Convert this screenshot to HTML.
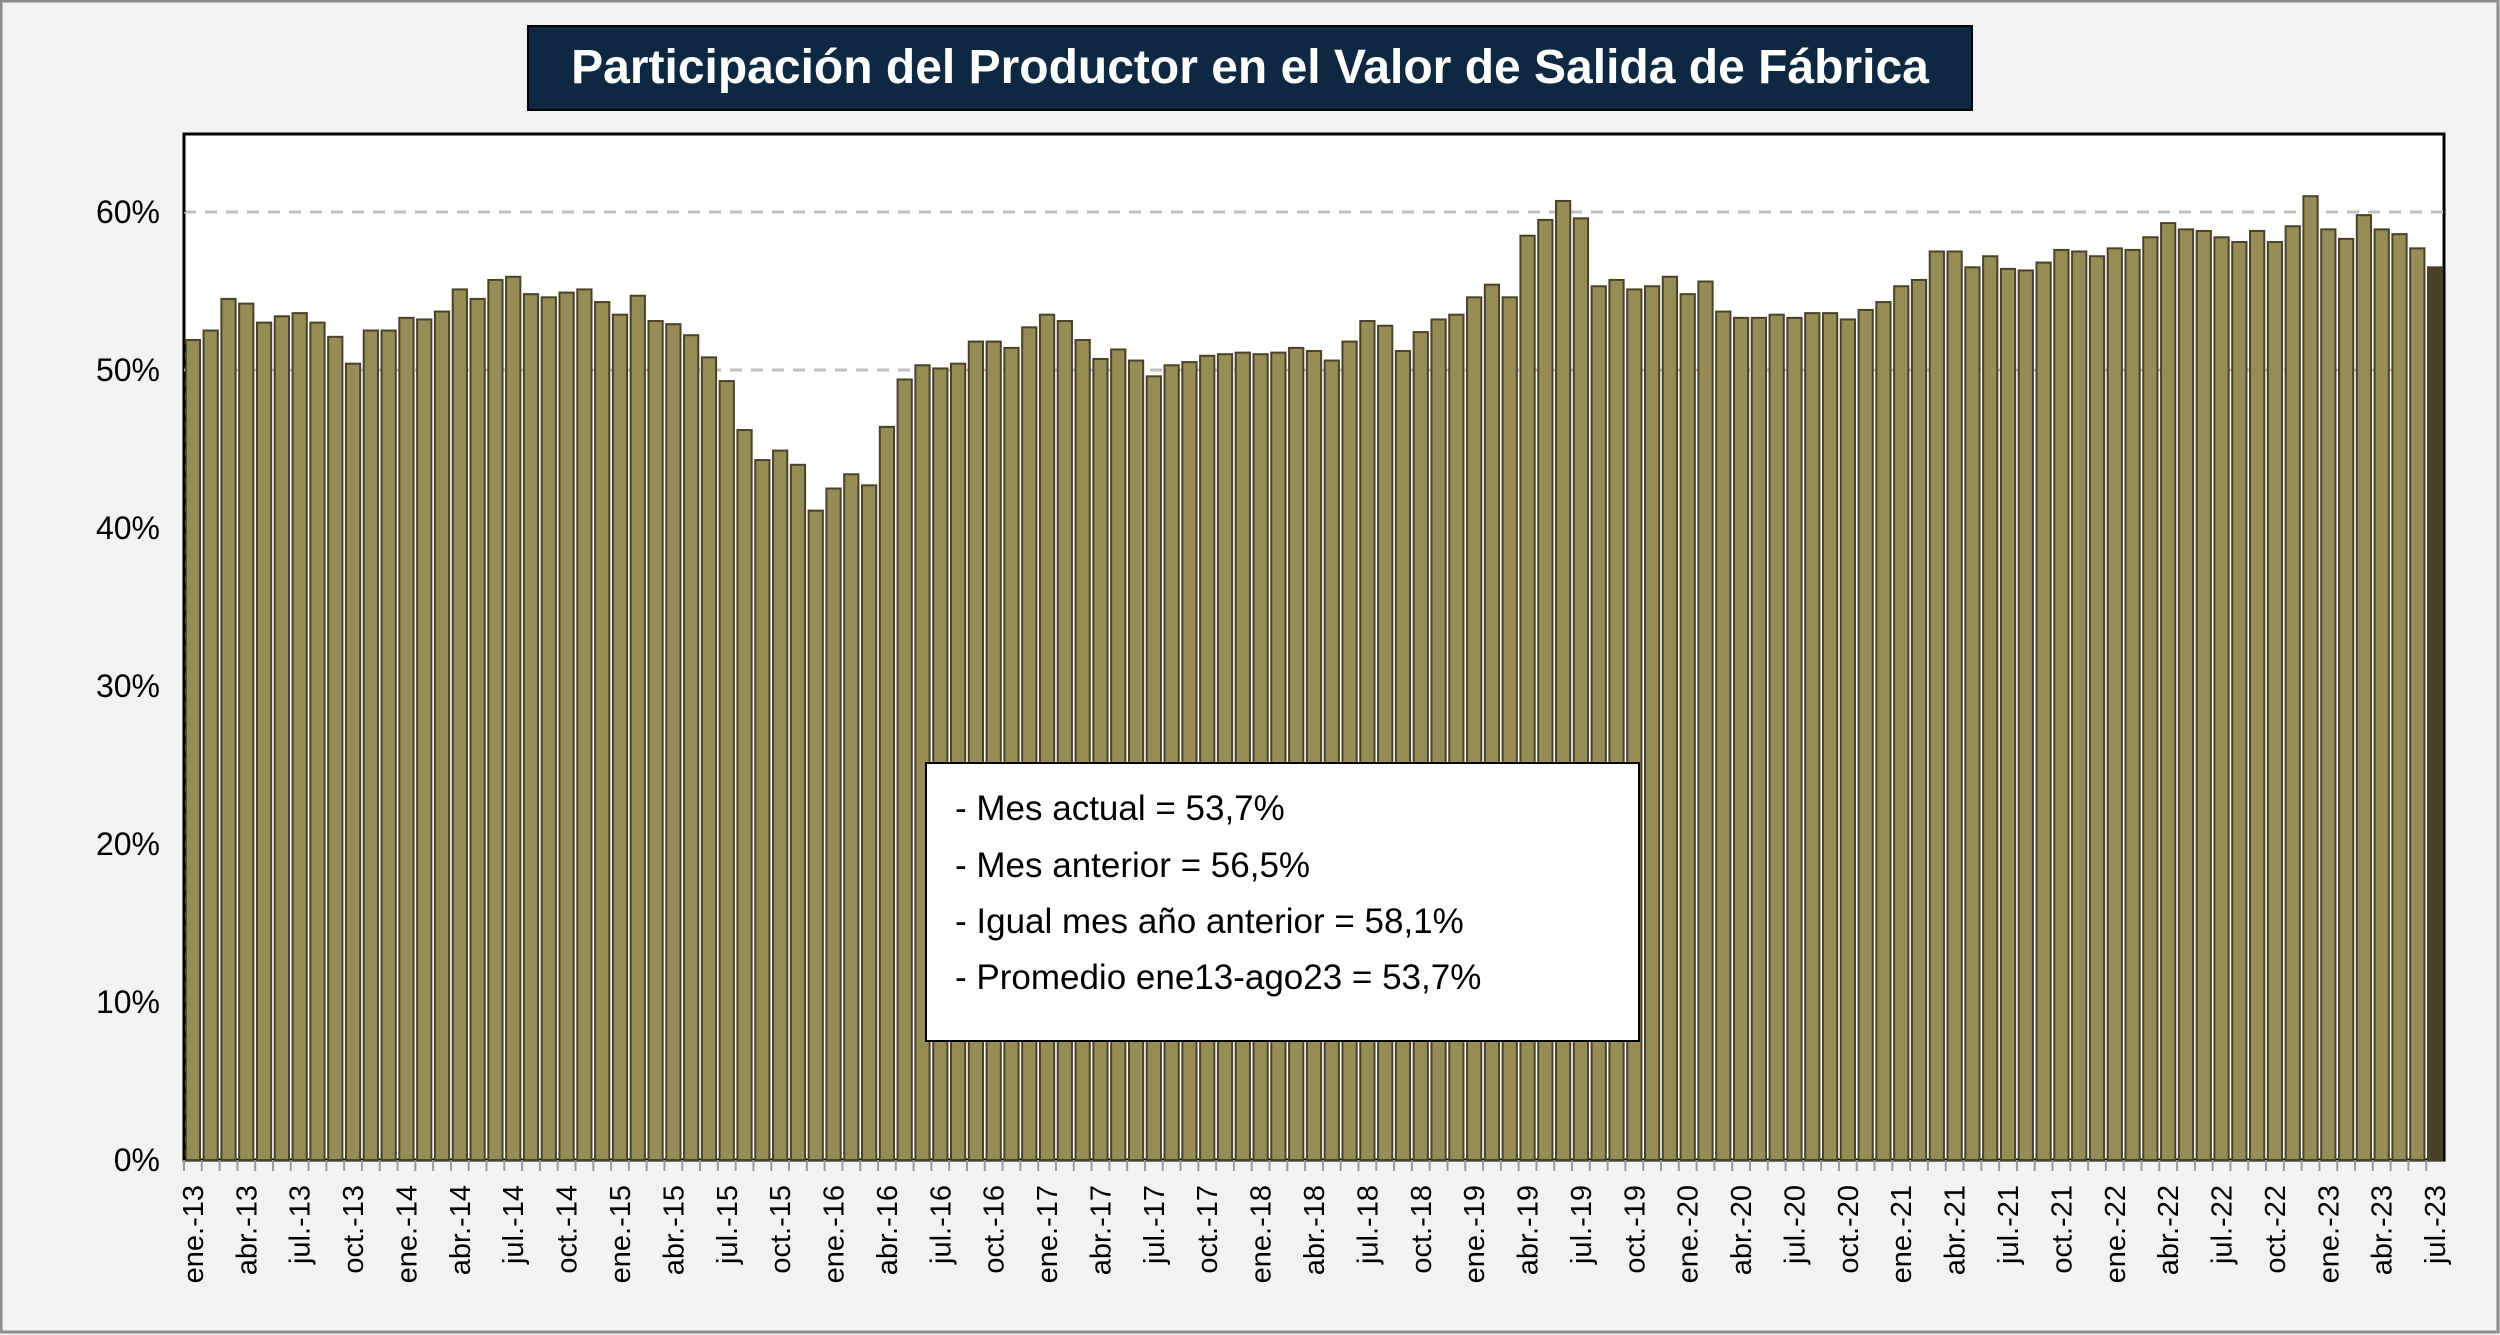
<!DOCTYPE html>
<html><head><meta charset="utf-8"><style>
html,body{margin:0;padding:0;background:#f2f2f2;}
svg{display:block;font-family:"Liberation Sans",sans-serif;}
</style></head><body>
<svg id="chart" width="2500" height="1335" viewBox="0 0 2500 1335">
<rect x="1" y="1" width="2497" height="1331" fill="#f2f2f2" stroke="#8c8c8c" stroke-width="3"/>
<rect x="528" y="26" width="1444" height="84" fill="#0e2841" stroke="#000" stroke-width="2"/>
<text x="1250" y="83" text-anchor="middle" font-size="48" font-weight="bold" fill="#fff">Participación del Productor en el Valor de Salida de Fábrica</text>
<rect x="184" y="134" width="2260" height="1026" fill="#fff" stroke="#000" stroke-width="3"/>
<g id="grid"></g>
<g id="bars"></g>
<line x1="184" y1="134" x2="184" y2="1160" stroke="#000" stroke-width="3" stroke-dasharray="8,6"/>
<g id="yticks"></g>
<g id="xticks"></g>
<rect x="926" y="763" width="713" height="278" fill="#fff" stroke="#000" stroke-width="2"/>
<g font-size="35" fill="#000">
<text x="955" y="820">- Mes actual = 53,7%</text>
<text x="955" y="877">- Mes anterior = 56,5%</text>
<text x="955" y="933">- Igual mes año anterior = 58,1%</text>
<text x="955" y="989">- Promedio ene13-ago23 = 53,7%</text>
</g>
</svg>
<script>
const monthNames = ["ene.","feb.","mar.","abr.","may.","jun.","jul.","ago.","sep.","oct.","nov.","dic."];
const values = [51.9,52.5,54.5,54.2,53.0,53.4,53.6,53.0,52.1,50.4,52.5,52.5,
53.3,53.2,53.7,55.1,54.5,55.7,55.9,54.8,54.6,54.9,55.1,54.3,
53.5,54.7,53.1,52.9,52.2,50.8,49.3,46.2,44.3,44.9,44.0,41.1,
42.5,43.4,42.7,46.4,49.4,50.3,50.1,50.4,51.8,51.8,51.4,52.7,
53.5,53.1,51.9,50.7,51.3,50.6,49.6,50.3,50.5,50.9,51.0,51.1,
51.0,51.1,51.4,51.2,50.6,51.8,53.1,52.8,51.2,52.4,53.2,53.5,
54.6,55.4,54.6,58.5,59.5,60.7,59.6,55.3,55.7,55.1,55.3,55.9,
54.8,55.6,53.7,53.3,53.3,53.5,53.3,53.6,53.6,53.2,53.8,54.3,
55.3,55.7,57.5,57.5,56.5,57.2,56.4,56.3,56.8,57.6,57.5,57.2,
57.7,57.6,58.4,59.3,58.9,58.8,58.4,58.1,58.8,58.1,59.1,61.0,
58.9,58.3,59.8,58.9,58.6,57.7,56.5];
const yTicks = [0,10,20,30,40,50,60];
const startYear = 13;

const NS="http://www.w3.org/2000/svg";
const X0=184, X1=2444, Y0=1160, PXPER=15.8;
const n=values.length, pitch=(X1-X0)/n, bw=pitch*0.8;
const yScale=v=>Y0-v*PXPER;
const xScale=i=>X0+pitch*i+pitch/2;
function mk(tag,attrs){const e=document.createElementNS(NS,tag);for(const k in attrs)e.setAttribute(k,attrs[k]);return e;}
const grid=document.getElementById('grid'),bars=document.getElementById('bars'),yt=document.getElementById('yticks'),xt=document.getElementById('xticks');
yTicks.forEach(t=>{
  const y=yScale(t);
  if(t===50||t===60){
    const l=mk('line',{x1:X0,x2:X1,y1:y,y2:y,stroke:'#c0c0c0','stroke-width':3,'stroke-dasharray':'12,9'});
    
    
    grid.appendChild(l);
  }
  const tx=mk('text',{x:160,y:y+11,'text-anchor':'end','font-size':32});
  tx.textContent=t+'%';
  
  
  yt.appendChild(tx);
});
values.forEach((v,i)=>{
  const last=i===n-1;
  const r=mk('rect',{x:xScale(i)-bw/2,y:yScale(v),width:bw,height:Y0-yScale(v),fill:last?'#4a4228':'#968c55',stroke:'#4a4228','stroke-width':2});
  
  
  bars.appendChild(r);
  const tk=mk('line',{x1:X0+pitch*i,x2:X0+pitch*i,y1:Y0,y2:Y0+11,stroke:'#999','stroke-width':2});
  
  
  xt.appendChild(tk);
  if(i%3===0){
    const m=i%12, yr=startYear+Math.floor(i/12);
    const lx=xScale(i)+10, ly=1185;
    const tx=mk('text',{x:lx,y:ly,'text-anchor':'end','font-size':29,transform:`rotate(-90 ${lx} ${ly})`});
    tx.textContent=monthNames[m]+'-'+yr;
    
    
    xt.appendChild(tx);
  }
});
</script>
</body></html>
